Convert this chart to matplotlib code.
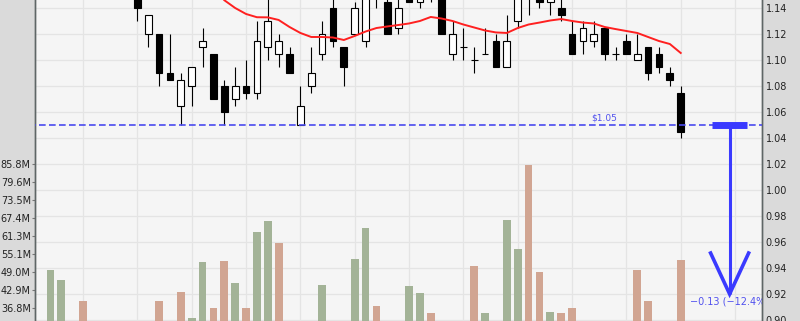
import matplotlib
matplotlib.use('Agg')
import matplotlib.pyplot as plt
import matplotlib.transforms as mtransforms
import numpy as np

# daily candles, first 8 sit above the visible window
opens = [1.19, 1.195, 1.205, 1.20, 1.19, 1.195, 1.185, 1.175, 1.165, 1.12,
         1.12, 1.09, 1.065, 1.08, 1.11, 1.105, 1.08, 1.07, 1.08, 1.075,
         1.11, 1.105, 1.105, 1.05, 1.08, 1.105, 1.14, 1.11, 1.12, 1.115,
         1.16, 1.145, 1.125, 1.155, 1.145, 1.16, 1.15, 1.105, 1.11, 1.10,
         1.105, 1.115, 1.095, 1.13, 1.165, 1.155, 1.145, 1.14, 1.12, 1.115,
         1.115, 1.125, 1.105, 1.115, 1.10, 1.11, 1.105, 1.09, 1.075]
highs = [1.20, 1.21, 1.21, 1.205, 1.20, 1.20, 1.19, 1.18, 1.17, 1.135,
         1.12, 1.12, 1.09, 1.095, 1.125, 1.105, 1.085, 1.095, 1.10, 1.13,
         1.15, 1.12, 1.11, 1.08, 1.11, 1.13, 1.155, 1.11, 1.145, 1.155,
         1.165, 1.15, 1.155, 1.16, 1.155, 1.165, 1.155, 1.13, 1.125, 1.11,
         1.125, 1.12, 1.135, 1.16, 1.17, 1.16, 1.155, 1.15, 1.13, 1.13,
         1.13, 1.125, 1.11, 1.12, 1.12, 1.11, 1.11, 1.095, 1.08]
lows = [1.18, 1.19, 1.19, 1.185, 1.18, 1.18, 1.17, 1.16, 1.13, 1.11,
        1.08, 1.085, 1.05, 1.065, 1.095, 1.07, 1.05, 1.065, 1.07, 1.07,
        1.10, 1.095, 1.09, 1.05, 1.075, 1.10, 1.11, 1.08, 1.12, 1.11,
        1.14, 1.12, 1.12, 1.145, 1.14, 1.145, 1.12, 1.10, 1.10, 1.09,
        1.105, 1.095, 1.095, 1.125, 1.135, 1.14, 1.135, 1.13, 1.105, 1.105,
        1.11, 1.10, 1.10, 1.105, 1.10, 1.085, 1.09, 1.08, 1.04]
closes = [1.195, 1.205, 1.20, 1.19, 1.195, 1.185, 1.175, 1.165, 1.14, 1.135,
          1.09, 1.085, 1.085, 1.095, 1.115, 1.07, 1.06, 1.08, 1.075, 1.115,
          1.13, 1.115, 1.09, 1.065, 1.09, 1.12, 1.115, 1.095, 1.14, 1.15,
          1.15, 1.12, 1.14, 1.145, 1.15, 1.15, 1.12, 1.12, 1.11, 1.10,
          1.105, 1.095, 1.115, 1.155, 1.15, 1.145, 1.15, 1.135, 1.105, 1.125,
          1.12, 1.105, 1.105, 1.105, 1.105, 1.09, 1.095, 1.085, 1.045]
volumes_m = [49.7, 46.3, 28, 39.1, 30, 26, 29, 31, 27, 30,
             39.1, 29, 42.2, 33.3, 52.4, 36.8, 52.7, 45.3, 36.8, 62.6,
             66.4, 58.9, 30, 31, 28, 44.6, 31, 29, 53.4, 64.0,
             37.4, 30, 28, 44.2, 41.9, 35.1, 31, 29, 27, 51.0,
             35.1, 30, 66.7, 56.8, 85.4, 49.0, 35.4, 35.1, 36.8, 29,
             27, 30, 26, 31, 49.7, 39.1, 30, 28, 53.1]

# moving average, starts at candle 15
ma_start = 15
ma_values = [1.156, 1.146, 1.140, 1.1354, 1.1329, 1.1328, 1.1308, 1.1254, 1.1208, 1.1177,
             1.1177, 1.1173, 1.1154, 1.1185, 1.1219, 1.1246, 1.1258, 1.1269, 1.1281, 1.130,
             1.1331, 1.1319, 1.130, 1.1273, 1.125, 1.1227, 1.1212, 1.1208, 1.1246, 1.1273,
             1.1288, 1.1304, 1.1315, 1.130, 1.1288, 1.1281, 1.1254, 1.1238, 1.1223, 1.1208,
             1.1177, 1.1146, 1.1123, 1.1054]

ref_price = 1.05
target_price = 0.92

price_ticks = [0.90, 0.92, 0.94, 0.96, 0.98, 1.00, 1.02, 1.04, 1.06, 1.08, 1.10, 1.12, 1.14]
vol_ticks_m = [36.75, 42.875, 49.0, 55.125, 61.25, 67.375, 73.5, 79.625, 85.75]
vol_tick_labels = ['36.8M', '42.9M', '49.0M', '55.1M', '61.3M', '67.4M', '73.5M', '79.6M', '85.8M']

GRID = '#e4e4e4'
SPINE = '#5f6666'
BLUE = '#3a3aff'
TXT_BLUE = '#5252ee'

x = np.arange(len(closes))
o = np.array(opens)
h = np.array(highs)
l = np.array(lows)
c = np.array(closes)
vol = np.array(volumes_m) * 1e6
prev = np.concatenate([[c[0] - 1], c[:-1]])
up_day = c > prev

fig = plt.figure(figsize=(8, 3.21), dpi=100, facecolor='#dadada')
axv = fig.add_axes([35 / 800, 0, 727 / 800, 1])
axv.set_facecolor('#f5f5f5')
axp = axv.twinx()

# volume
vol_colors = ['#a3b397' if u else '#d1a592' for u in up_day]
axv.bar(x, vol, width=0.72, color=vol_colors, zorder=2)

# grid
axv.set_xticks(np.arange(3, 66, 5))
axv.grid(axis='x', color=GRID, lw=0.9, zorder=0)
trans = mtransforms.blended_transform_factory(axv.transAxes, axp.transData)
for p in price_ticks:
    axv.plot([0, 1], [p, p], transform=trans, color=GRID, lw=0.9, zorder=0.5)

# candles
axp.vlines(x, l, h, color='black', lw=0.8, zorder=2)
body_colors = ['white' if cc > oo else 'black' for oo, cc in zip(o, c)]
axp.bar(x, np.abs(c - o), bottom=np.minimum(o, c), width=0.62,
        color=body_colors, edgecolor='black', linewidth=0.8, zorder=3)

# moving average
ma_x = np.arange(ma_start, ma_start + len(ma_values))
axp.plot(ma_x, ma_values, color='#ff2020', lw=1.4, zorder=4)

# reference line + label
axp.plot([-2, 70], [ref_price, ref_price], color='#4a4aee', lw=1.2, dashes=(4, 2), zorder=5)
axp.annotate('\\$%.2f' % ref_price, xy=(51, ref_price), xytext=(0, 1.5),
             textcoords='offset points', ha='center', va='bottom',
             fontsize=6.5, color=TXT_BLUE)

# drop arrow
arrow_x = 62.5
axp.plot([arrow_x - 1.6, arrow_x + 1.6], [ref_price, ref_price], color=BLUE, lw=5,
         solid_capstyle='butt', zorder=6)
axp.plot([arrow_x, arrow_x], [ref_price, target_price], color=BLUE, lw=2.2,
         solid_capstyle='butt', zorder=6)
axp.plot([arrow_x - 1.75, arrow_x, arrow_x + 1.75],
         [target_price + 0.0315, target_price, target_price + 0.0315],
         color=BLUE, lw=2.6, solid_joinstyle='miter', zorder=6)
diff = target_price - ref_price
pct = diff / ref_price * 100
label = '%.2f (%.1f%%)' % (diff, pct)
axp.text(58.85, target_price - 0.006, label.replace('-', '\u2212'), ha='left', va='center',
         fontsize=7, color=TXT_BLUE, clip_on=True, zorder=7)

# axes
axv.set_xlim(-1.42, 65.48)
axp.set_ylim(0.899231, 1.146154)
axv.set_ylim(32.33e6, 141.56e6)

axp.set_yticks(price_ticks)
axp.set_yticklabels(['%.2f' % p for p in price_ticks])
axv.set_yticks(np.array(vol_ticks_m) * 1e6)
axv.set_yticklabels(vol_tick_labels)

axv.tick_params(axis='x', length=0, labelbottom=False)
axv.tick_params(axis='y', labelsize=7, labelcolor='#222222', length=2, width=0.8,
                color='#777777', pad=1)
axp.tick_params(axis='y', labelsize=7, labelcolor='#222222', length=0, pad=2.5)

for a in (axv, axp):
    a.spines['top'].set_visible(False)
    a.spines['bottom'].set_visible(False)
    a.spines['left'].set_color(SPINE)
    a.spines['right'].set_color(SPINE)
    a.spines['left'].set_linewidth(1.0)
    a.spines['right'].set_linewidth(1.0)

fig.savefig('out.png', dpi=100, facecolor=fig.get_facecolor())
